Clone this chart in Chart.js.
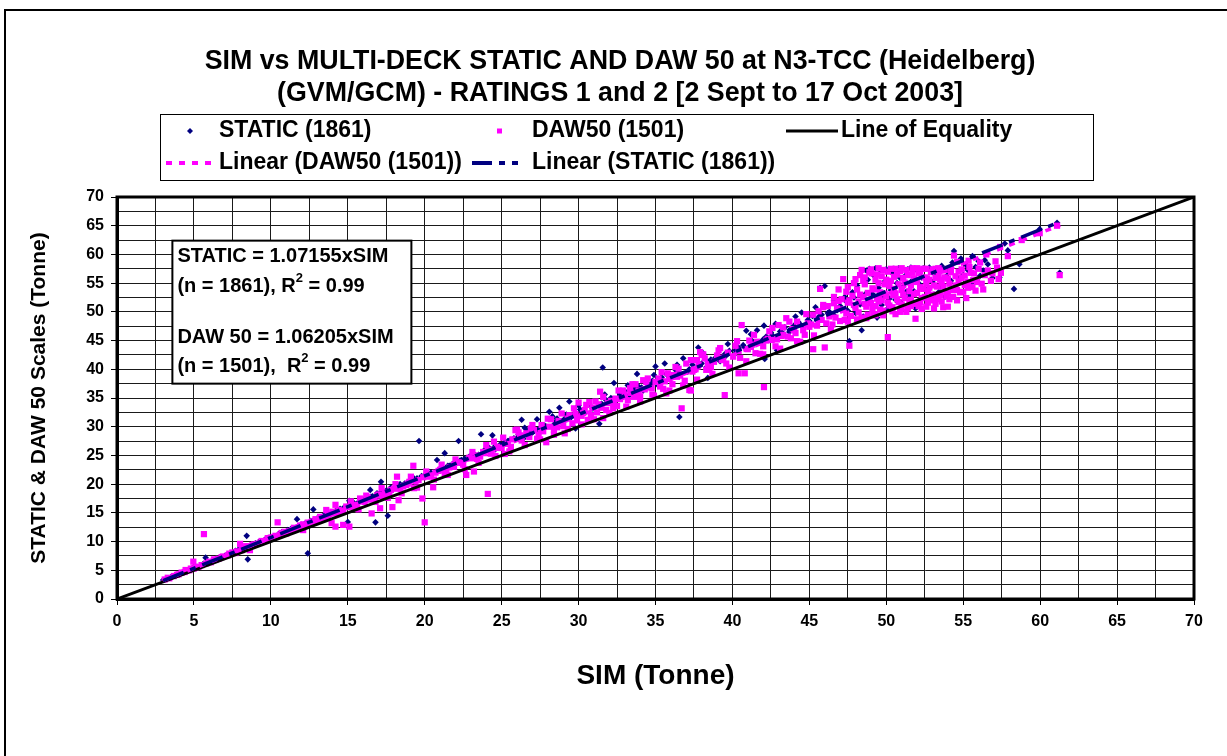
<!DOCTYPE html>
<html>
<head>
<meta charset="utf-8">
<script src="https://cdn.jsdelivr.net/npm/chart.js"></script>
<style>
  body { margin: 0; background: #fff; }
  canvas { display: block; }
</style>
</head>
<body>
<canvas id="sim-chart" width="1227" height="756"></canvas>
<script>
// STATIC scale vs SIM, [SIM, STATIC] in tonne
var staticPoints = [
  [3.0,3.3],[3.2,3.5],[3.5,3.8],[3.8,4.0],[4.1,4.5],[4.3,4.6],[4.6,4.9],[4.9,5.4],[5.2,5.6],[5.5,5.8],[5.76,7.2],[5.9,6.3],
  [6.2,6.7],[6.5,7.0],[6.8,7.2],[7.1,7.6],[7.4,8.0],[7.6,8.1],[7.9,8.6],[8.2,8.8],[8.43,11.0],[8.5,6.9],[8.7,9.3],[9.0,9.7],[9.3,9.9],[9.6,10.3],[9.9,10.6],
  [10.2,10.9],[10.5,11.3],[10.8,11.5],[11.1,12.0],[11.4,12.2],[11.7,13.9],[11.9,12.8],[12.2,13.1],[12.4,7.95],[12.6,13.6],[12.76,15.6],[13.0,14.0],[13.3,14.2],[13.6,14.8],[13.9,15.0],[14.2,15.3],[14.5,15.7],[14.8,15.9],[15.0,13.4],
  [15.1,17.1],[15.4,16.7],[15.7,16.9],[16.0,17.3],[16.3,17.6],[16.46,19.0],[16.6,17.9],[16.8,13.35],[16.9,18.4],[17.16,20.4],[17.2,18.6],[17.5,18.9],[17.6,14.5],[17.8,19.4],[18.1,19.6],[18.4,20.0],[18.7,20.1],[19.0,20.6],[19.3,21.0],[19.63,27.5],[19.8,21.4],
  [20.1,21.8],[20.4,22.0],[20.8,24.2],[21.0,22.6],[21.3,25.4],[21.5,23.2],[21.8,23.5],[22.2,27.5],[22.3,24.1],[22.6,24.4],[22.9,24.8],[23.2,25.3],[23.5,25.1],[23.66,28.7],[23.9,26.0],[24.2,26.3],[24.4,28.5],[24.6,26.1],[24.9,26.9],
  [25.2,27.3],[25.5,27.6],[25.8,28.0],[26.1,28.6],[26.3,31.2],[26.4,27.9],[26.7,29.3],[27.0,29.0],[27.3,31.3],[27.5,29.8],[27.8,30.2],[28.1,32.6],[28.3,30.1],[28.6,31.4],[28.75,33.3],[28.9,31.0],[29.2,32.1],[29.4,34.4],[29.5,31.6],[29.8,29.7],
  [30.1,33.0],[30.4,32.4],[30.7,33.9],[31.0,33.2],[31.35,30.5],[31.57,40.3],[31.8,34.6],[32.1,35.0],[32.3,37.6],[32.4,34.5],[32.7,35.6],[33.0,36.2],[33.3,35.5],[33.6,36.7],[33.8,39.2],[33.9,37.0],[34.2,36.3],[34.5,37.5],[34.8,38.0],[35.0,40.5],[35.1,37.4],[35.4,38.6],[35.6,41.0],[35.7,39.2],[36.0,38.5],[36.3,39.9],[36.55,31.7],[36.8,41.9],
  [37.1,39.6],[37.4,40.8],[37.78,43.8],[38.0,41.0],[38.3,40.3],[38.4,38.5],[38.6,41.7],[38.9,42.0],[39.2,41.4],[39.5,42.6],[39.8,43.2],[40.1,42.5],[40.4,43.8],[40.7,44.2],[40.9,46.7],[41.0,43.6],[41.3,44.9],[41.6,46.8],[41.9,44.8],[42.05,47.6],[42.1,41.8],[42.2,45.7],[42.5,46.4],[42.9,43.3],[43.1,46.6],[43.4,47.3],[43.7,46.5],[44.0,47.6],[44.3,48.2],[44.5,49.9],[44.6,47.4],[44.9,48.6],[45.2,49.3],[45.5,48.5],[45.7,54.2],[45.8,49.5],[46.0,54.5],[46.3,50.0],[46.6,49.4],[46.9,50.6],
  [47.0,51.0],[47.3,52.6],[47.5,50.2],[47.6,44.9],[47.8,53.4],[48.0,49.8],[48.1,54.6],[48.4,46.8],[48.5,49.2],[48.6,53.0],[48.8,55.6],[48.9,57.5],[49.0,51.8],[49.2,56.3],[49.4,49.0],[49.5,54.2],[49.6,57.3],[49.8,52.6],[49.9,55.3],[50.0,57.4],[50.1,50.6],[50.3,53.8],[50.4,56.7],[50.6,52.1],[50.7,55.0],[50.8,57.6],[50.95,51.6],[51.1,54.4],[51.2,56.2],[51.4,57.4],[51.5,52.8],[51.7,55.5],[51.8,53.6],[52.0,57.2],[52.1,51.9],[52.3,56.0],[52.5,54.1],[52.6,52.1],[52.8,57.7],[53.0,55.2],[53.1,53.0],[53.3,56.6],[53.5,54.4],[53.6,58.0],[53.8,52.6],[54.0,57.0],[54.2,55.4],[54.4,60.6],[54.6,53.8],[54.85,59.3],[55.0,56.4],[55.2,58.1],[55.5,55.0],[55.8,57.8],[56.1,56.3],[56.4,59.0],[56.6,58.3],[56.9,55.9],[57.35,56.0],[57.7,61.9],[57.9,60.7],[58.3,54.0],[58.65,58.3],[59.97,64.4],[61.1,65.5],[61.27,56.8],
  [3.6,3.9],[4.4,4.8],[5.0,5.5],[5.6,6.1],[6.4,6.9],[7.0,7.5],[7.7,8.4],[8.4,9.1],[9.2,9.9],[10.0,10.8],[10.7,11.6],[11.3,12.2],[12.0,12.9],[12.8,13.8],[13.4,14.5],[14.0,15.1],[14.7,15.8],[15.3,16.5],[15.9,17.2],[16.5,17.8],[17.1,18.4],[17.7,19.0],[18.3,19.7],[18.9,20.3],[19.5,21.0],[20.2,21.7],[20.9,22.5],[21.6,23.2],[22.4,24.2],[23.1,24.8],[23.8,25.6],[24.5,26.4],
  [25.4,27.5],[26.0,28.0],[26.6,28.7],[27.3,29.4],[27.9,30.0],[28.5,30.8],[29.1,31.4],[29.7,32.0],[30.3,32.8],[30.9,33.2],[31.5,34.0],[32.2,34.8],[32.9,35.3],[33.5,36.0],[34.1,36.8],[34.7,37.3],[35.3,38.1],[35.9,38.6],[36.5,39.3],[37.2,40.0],[37.8,40.6],[38.4,41.3],[39.0,42.2],[39.6,42.4],[40.2,43.3],[40.8,43.8],[41.4,44.6],[42.0,45.2],[42.6,45.9],[43.2,46.5],[43.8,47.1],[44.4,47.8],[45.0,48.4],[45.6,49.1],[46.2,49.8],[46.8,50.3],
  [47.4,51.8],[47.9,52.5],[48.3,51.3],[48.7,57.2],[49.1,53.1],[49.3,57.6],[49.7,51.2],[50.2,52.3],[50.5,57.5],[50.9,55.9],[51.3,53.5],[51.6,57.7],[51.9,50.6],[52.2,54.7],[52.4,57.6],[52.7,55.8],[53.2,57.5],[53.4,53.4],[53.9,56.2],[54.3,58.6],[54.7,55.8],[55.3,57.3],[55.6,59.7],[56.0,58.8],[56.3,57.2],
  [26.5,29.8],[28.3,31.8],[30.0,33.7],[31.7,35.6],[33.2,37.2],[34.9,39.0],[36.4,40.8],[38.1,42.8],[39.7,44.4],[41.2,46.1],[42.8,47.9],[44.1,49.2],[45.4,50.8],[46.6,52.0]
];

// DAW 50 scale vs SIM, [SIM, DAW50] in tonne
var dawPoints = [
  [3.1,3.4],[3.4,3.6],[3.7,4.0],[4.0,4.3],[4.4,4.7],[4.46,5.05],[4.7,5.0],[4.96,6.5],[5.0,5.3],[5.3,5.6],[5.65,11.3],[5.8,6.2],[6.1,6.4],[6.3,6.9],[6.6,7.0],[6.9,7.4],[7.2,7.6],[7.5,8.1],[7.8,8.3],[8.0,9.6],[8.2,9.0],[8.5,8.8],[8.64,8.5],[8.8,9.4],[9.1,9.6],[9.4,10.1],[9.7,10.2],[10.0,10.7],
  [10.3,11.0],[10.44,13.35],[10.6,11.2],[10.9,11.7],[11.2,11.8],[11.5,12.4],[11.8,12.5],[12.1,12.0],[12.1,13.0],[12.4,13.3],[12.7,13.5],[13.0,13.6],[13.2,14.3],[13.5,14.1],[13.6,15.5],[13.8,14.8],[13.95,13.2],[14.1,14.9],[14.2,12.6],[14.2,16.4],[14.4,15.5],[14.7,12.9],[14.7,15.4],[15.0,16.0],
  [15.1,12.6],[15.3,16.1],[15.6,16.4],[15.8,17.5],[16.1,16.9],[16.3,17.7],[16.55,14.9],[16.7,17.4],[17.0,18.2],[17.1,15.8],[17.4,18.5],[17.7,18.4],[17.9,16.0],[18.0,19.2],[18.2,21.3],[18.3,17.2],[18.6,19.6],[18.8,19.85],[19.0,20.4],[19.26,23.2],[19.3,19.3],[19.6,20.7],[19.85,17.5],[20.0,13.35],[20.2,21.3],[20.55,19.45],[20.7,22.0],[21.0,22.5],[21.3,21.9],[21.6,22.9],[21.9,23.0],[22.2,23.8],[22.5,23.4],[22.7,21.6],[23.0,24.5],[23.2,22.2],[23.4,25.0],[23.6,24.8],[23.9,25.4],[24.1,18.3],[24.1,25.9],[24.4,26.0],[24.5,27.4],[24.8,26.3],
  [25.2,25.25],[25.4,27.0],[25.7,27.8],[25.9,29.4],[26.0,29.5],[26.3,27.6],[26.6,28.85],[26.8,28.2],[27.1,29.4],[27.4,28.6],[27.6,30.3],[27.9,27.3],[28.1,30.0],[28.4,29.4],[28.7,31.0],[29.1,28.85],[29.3,31.4],[29.6,30.6],[29.8,32.2],[30.0,34.2],[30.3,32.4],[30.6,31.2],[30.9,33.3],[31.2,32.5],[31.4,36.1],[31.6,31.5],[31.9,34.1],[32.25,33.2],[32.4,34.9],[32.7,34.8],[33.0,35.6],[33.35,36.7],[33.6,35.2],[33.9,36.3],[34.2,38.1],[34.5,36.9],[34.75,36.7],[35.0,37.8],[35.3,37.0],[35.7,35.8],[35.9,38.3],[36.2,39.0],[36.4,38.7],[36.7,33.2],[37.0,41.0],[37.2,36.4],[37.3,36.3],[37.6,40.0],
  [37.7,41.6],[37.9,43.0],[38.0,42.5],[38.3,39.9],[38.5,39.9],[38.8,41.3],[39.0,42.4],[39.3,41.6],[39.5,35.5],[39.7,42.9],[40.05,42.2],[40.4,39.3],[40.6,47.7],[40.8,39.3],[41.0,43.5],[41.3,44.3],[41.6,44.8],[41.8,42.7],[42.05,36.9],[42.3,45.3],[42.55,45.1],[42.8,44.0],[43.0,47.7],[43.3,46.0],[43.5,48.9],[43.6,45.7],[43.9,47.0],[44.1,46.3],[44.4,44.8],[44.6,46.8],[44.9,48.0],[45.25,49.5],[45.25,43.5],[45.5,47.6],[45.7,54.0],[45.9,51.2],[46.0,43.8],[46.3,49.2],[46.5,47.8],[46.8,50.6],[47.1,52.2],[47.4,49.7],[47.6,44.1],
  [47.2,50.4],[47.4,53.5],[47.5,51.6],[47.7,49.3],[47.8,52.8],[47.9,55.0],[48.0,50.7],[48.1,53.9],[48.2,51.8],[48.3,56.4],[48.4,49.0],[48.5,52.6],[48.6,54.8],[48.7,50.9],[48.8,53.3],[48.9,56.9],[49.0,51.5],[49.05,56.7],[49.1,54.1],[49.2,49.6],[49.3,55.6],[49.4,52.3],[49.5,51.8],[49.6,53.4],[49.7,56.2],[49.8,50.2],[49.9,54.8],[50.0,52.7],[50.1,45.6],[50.1,57.0],[50.2,51.1],[50.3,55.4],[50.45,52.9],[50.5,54.0],[50.6,49.6],[50.7,56.5],[50.8,51.7],[50.9,50.0],[51.0,53.8],[51.1,55.9],[51.2,52.4],[51.3,57.3],[51.4,50.6],[51.5,51.8],[51.6,54.6],[51.7,56.8],[51.8,53.1],[51.9,48.8],[52.0,55.2],[52.1,51.0],[52.2,57.1],[52.3,52.4],[52.4,54.0],[52.5,56.0],[52.6,50.9],[52.7,53.6],[52.8,55.6],[52.9,52.0],[53.0,57.4],[53.1,54.6],[53.2,51.4],[53.3,54.4],[53.4,56.6],[53.5,52.9],[53.6,55.1],[53.7,50.8],[53.8,57.3],[53.9,53.5],[54.0,55.8],[54.1,52.2],[54.2,56.9],[54.35,52.6],[54.4,59.8],[54.5,54.6],[54.6,58.7],[54.7,57.0],[54.8,53.4],[54.9,55.9],[55.1,54.7],[55.2,52.4],[55.35,58.9],[55.5,56.8],[55.65,55.5],[55.8,53.7],[56.0,57.5],[56.2,54.9],[56.4,56.4],[56.5,60.0],[56.8,55.4],[57.2,57.7],[57.4,61.3],[57.45,56.8],[57.9,59.7],[58.8,62.5],[59.97,63.7],[61.1,65.0],[61.27,56.4],
  [3.3,3.7],[3.9,4.2],[4.2,4.6],[4.8,5.3],[5.1,5.5],[5.5,5.9],[6.0,6.5],[6.4,6.8],[6.8,7.3],[7.3,7.9],[7.7,8.0],[8.1,8.5],[8.4,9.2],[8.9,9.5],[9.3,9.8],[9.8,10.6],[10.2,10.8],[10.7,11.5],[11.0,11.4],[11.4,12.0],[11.9,12.8],[12.3,12.9],[12.6,13.3],[12.9,13.9],[13.3,14.0],[13.7,14.5],[14.0,15.2],[14.5,15.0],[14.9,16.1],[15.4,15.8],[15.9,17.0],[16.4,17.3],[16.9,18.0],[17.3,17.9],[17.8,19.0],[18.4,19.2],[18.9,20.1],[19.4,20.5],[19.9,21.2],[20.4,21.5],[20.9,22.3],[21.4,22.5],[21.9,23.4],[22.4,23.7],[22.9,24.6],[23.4,24.4],[23.8,25.6],[24.3,25.3],[24.7,26.5],
  [25.0,26.3],[25.6,26.5],[26.2,28.5],[26.9,29.7],[27.3,27.9],[27.7,29.2],[28.2,31.3],[28.6,29.9],[29.0,30.1],[29.4,32.0],[29.9,31.1],[30.2,31.9],[30.5,33.8],[30.8,32.0],[31.1,34.4],[31.5,33.3],[31.8,32.9],[32.1,34.5],[32.5,33.6],[32.9,36.3],[33.2,34.6],[33.7,37.4],[34.0,35.3],[34.4,37.8],[34.8,35.6],[35.2,38.4],[35.5,36.6],[35.8,39.3],[36.1,37.4],[36.5,40.1],[36.9,38.0],[37.4,39.6],[37.8,40.8],[38.2,41.9],[38.6,40.4],[39.1,43.3],[39.6,41.0],[40.2,44.1],[40.5,42.0],[41.1,45.0],[41.5,42.8],[42.0,44.0],[42.4,46.6],[42.9,45.2],[43.3,47.3],[43.8,45.4],[44.2,48.3],[44.7,46.0],[45.1,47.8],[45.6,50.1],[46.1,48.0],[46.6,51.5],[47.0,48.4],
  [47.3,48.6],[47.5,54.3],[47.6,52.0],[47.9,51.2],[48.0,55.7],[48.2,49.9],[48.3,53.0],[48.5,55.4],[48.6,51.4],[48.8,49.5],[48.9,52.1],[49.0,57.4],[49.1,50.5],[49.2,53.9],[49.3,51.0],[49.4,56.5],[49.5,55.0],[49.6,50.4],[49.7,52.0],[49.8,57.3],[49.9,53.2],[50.0,55.6],[50.1,51.6],[50.2,54.5],[50.3,57.5],[50.4,50.8],[50.5,56.1],[50.6,53.2],[50.7,52.2],[50.8,54.8],[50.9,57.1],[51.0,51.3],[51.1,53.0],[51.2,55.1],[51.3,50.0],[51.4,56.4],[51.5,53.6],[51.6,52.1],[51.7,57.6],[51.8,55.8],[51.9,51.4],[52.0,53.3],[52.1,56.7],[52.2,54.3],[52.3,50.5],[52.4,57.5],[52.5,52.6],[52.6,55.0],[52.7,51.6],[52.8,54.2],[52.9,56.9],[53.0,53.0],[53.1,50.6],[53.2,55.9],[53.3,52.2],[53.4,57.6],[53.5,55.6],[53.6,51.8],[53.7,54.4],[53.8,56.0],[53.9,52.7],[54.0,50.9],[54.1,54.9],[54.2,57.4],[54.3,53.8],[54.5,56.2],[54.6,52.0],[54.7,55.3],[54.9,57.4],[55.0,53.5],[55.1,56.3],[55.3,54.2],[55.4,57.8],[55.6,54.3],[55.7,56.7],[55.9,55.2],[56.1,58.6],[56.3,53.9],[56.6,57.2],[56.9,56.7],[57.1,58.8],[57.3,55.7],
  [15.2,17.0],[15.7,15.6],[16.2,18.0],[16.8,16.9],[17.2,19.3],[17.6,17.6],[18.1,20.0],[18.5,18.4],[19.1,21.3],[19.5,19.4],[20.1,22.2],[20.6,20.8],[21.1,23.4],[21.5,21.6],[22.0,24.3],[22.6,22.6],[23.1,25.6],[23.5,23.7],[24.0,26.8],[24.6,24.9],
  [25.1,28.1],[25.5,25.7],[26.1,29.0],[26.5,26.8],[27.0,30.3],[27.5,27.8],[28.0,31.4],[28.4,28.6],[28.9,32.3],[29.3,29.6],[29.7,33.2],[30.2,30.4],[30.7,34.3],[31.0,31.3],[31.6,35.2],[32.0,32.4],[32.6,36.3],[33.1,33.5],[33.5,37.4],[34.0,34.4],[34.5,38.4],[34.9,35.4],[35.4,39.5],[35.9,36.3],[36.3,40.4],[36.8,37.2],[37.3,41.6],[37.7,38.2],[38.1,42.6],[38.7,39.2],[39.2,43.7],[39.8,40.3],[40.3,44.9],[40.9,41.4],[41.4,46.0],[42.0,42.6],[42.6,47.2],[43.1,43.6],[43.7,48.3],[44.2,44.9],[44.8,49.6],[45.3,45.9],[45.9,50.8],[46.4,47.0],[46.9,51.9],
  [30.4,32.9],[31.3,33.9],[32.3,34.0],[33.4,35.9],[34.3,36.5],[35.6,37.9],[36.6,38.9],[37.5,39.9],[38.4,40.9],[39.4,42.0],[40.4,43.2],[41.2,43.9],[42.2,45.0],[43.2,45.8],[44.0,46.8],[45.0,47.4],[45.8,48.6],[46.7,49.0],
  [47.5,48.3],[48.1,48.7],[48.7,48.9],[49.3,49.4],[49.8,49.4],[50.4,50.1],[51.0,50.6],[51.6,51.0],[52.2,51.6],[52.8,52.3],[53.4,52.7],[54.0,53.2],[54.6,53.8],[55.3,55.2],[48.4,57.3],[48.6,56.0],[49.5,57.6],[50.6,57.5],[51.0,57.6],[52.0,57.6],[52.6,57.5],[53.2,57.5],[53.6,57.2],[47.2,55.7],[46.9,53.9],[46.6,52.6],[46.2,51.0]
];

// Line of equality and the two linear trendlines (end points)
var equalityLine = [[0,0],[70,70]];
var staticTrend = [[3.0,3.21],[61.2,65.58]];
var dawTrend = [[3.0,3.19],[61.3,65.10]];

var seriesNames = ['STATIC (1861)', 'DAW50 (1501)', 'Line of Equality', 'Linear (DAW50 (1501))', 'Linear (STATIC (1861))'];
var titleLines = ['SIM vs MULTI-DECK STATIC AND DAW 50 at N3-TCC (Heidelberg)', '(GVM/GCM) - RATINGS 1 and 2 [2 Sept to 17 Oct 2003]'];
var noteLines = [['STATIC = 1.07155xSIM'], ['(n = 1861), R', '2', ' = 0.99'], ['DAW 50 = 1.06205xSIM'], ['(n = 1501),  R', '2', ' = 0.99']];

var NAVY = '#000080';
var PINK = '#ff00ff';

function toXY(arr) {
  return arr.map(function (p) { return {x: p[0], y: p[1]}; });
}

// outer frame + thick border round the plot
var framePlugin = {
  id: 'frame',
  beforeDraw: function (chart) {
    var c = chart.ctx;
    c.save();
    c.fillStyle = '#fff';
    c.fillRect(0, 0, chart.width, chart.height);
    c.strokeStyle = '#000';
    c.lineWidth = 2;
    c.strokeRect(5, 10, 1300, 800);
    c.restore();
  },
  afterDatasetsDraw: function (chart) {
    var a = chart.chartArea, c = chart.ctx;
    c.save();
    c.strokeStyle = '#000';
    c.lineWidth = 3;
    c.strokeRect(a.left, a.top, a.right - a.left, a.bottom - a.top);
    c.restore();
  }
};

// legend laid out in Excel style, two rows in a box
var legendPlugin = {
  id: 'xlLegend',
  afterDraw: function (chart) {
    var c = chart.ctx;
    c.save();
    c.fillStyle = '#fff';
    c.fillRect(160, 114, 933, 66);
    c.strokeStyle = '#000';
    c.lineWidth = 1;
    c.strokeRect(160.5, 114.5, 933, 66);

    c.font = 'bold 23px "Liberation Sans", Arial, sans-serif';
    c.fillStyle = '#000';
    c.textBaseline = 'middle';
    c.textAlign = 'left';
    var r1 = 131, r2 = 163;

    // STATIC marker
    c.fillStyle = NAVY;
    c.beginPath();
    c.moveTo(190, r1 - 3); c.lineTo(193, r1); c.lineTo(190, r1 + 3); c.lineTo(187, r1);
    c.closePath(); c.fill();
    // DAW marker
    c.fillStyle = PINK;
    c.fillRect(497, r1 - 2.5, 5, 5);
    // equality line
    c.strokeStyle = '#000';
    c.lineWidth = 3;
    c.beginPath(); c.moveTo(786, r1); c.lineTo(838, r1); c.stroke();
    // DAW trend
    c.strokeStyle = PINK;
    c.lineWidth = 4;
    c.setLineDash([6, 7]);
    c.beginPath(); c.moveTo(166, r2); c.lineTo(212, r2); c.stroke();
    // STATIC trend
    c.strokeStyle = NAVY;
    c.setLineDash([20, 7, 6, 7]);
    c.beginPath(); c.moveTo(472, r2); c.lineTo(518, r2); c.stroke();
    c.setLineDash([]);

    c.fillStyle = '#000';
    c.fillText(seriesNames[0], 219, r1);
    c.fillText(seriesNames[1], 532, r1);
    c.fillText(seriesNames[2], 841, r1);
    c.fillText(seriesNames[3], 219, r2);
    c.fillText(seriesNames[4], 532, r2);
    c.restore();
  }
};

// regression text box
var notePlugin = {
  id: 'note',
  afterDraw: function (chart) {
    var c = chart.ctx;
    var x0 = chart.scales.x.getPixelForValue(3.6);
    var y0 = chart.scales.y.getPixelForValue(62.4);
    c.save();
    c.fillStyle = '#fff';
    c.fillRect(x0, y0, 239, 143);
    c.strokeStyle = '#000';
    c.lineWidth = 2;
    c.strokeRect(x0, y0, 239, 143);
    c.fillStyle = '#000';
    c.textBaseline = 'middle';
    c.textAlign = 'left';
    var rows = [16, 46, 97, 126];
    noteLines.forEach(function (parts, i) {
      var x = x0 + 5, y = y0 + rows[i];
      parts.forEach(function (t, j) {
        if (j === 1) {
          c.font = 'bold 13px "Liberation Sans", Arial, sans-serif';
          c.fillText(t, x, y - 8);
        } else {
          c.font = 'bold 20px "Liberation Sans", Arial, sans-serif';
          c.fillText(t, x, y);
        }
        x += c.measureText(t).width;
      });
    });
    c.restore();
  }
};

var ctx = document.getElementById('sim-chart').getContext('2d');

var tickFont = {family: '"Liberation Sans", Arial, sans-serif', size: 16, weight: 'bold'};
var majorTick = function (c) { return c.tick && c.tick.value % 5 === 0 ? '#000' : 'rgba(0,0,0,0)'; };

var chart = new Chart(ctx, {
  type: 'scatter',
  data: {
    datasets: [
      {
        label: seriesNames[4],
        data: toXY(staticTrend),
        showLine: true,
        borderColor: NAVY,
        borderWidth: 3.5,
        borderDash: [22, 7, 6, 7],
        pointRadius: 0,
        order: 0
      },
      {
        label: seriesNames[3],
        data: toXY(dawTrend),
        showLine: true,
        borderColor: PINK,
        borderWidth: 3.5,
        borderDash: [6, 7],
        pointRadius: 0,
        order: 1
      },
      {
        label: seriesNames[2],
        data: toXY(equalityLine),
        showLine: true,
        borderColor: '#000',
        borderWidth: 3,
        pointRadius: 0,
        order: 2
      },
      {
        label: seriesNames[1],
        data: toXY(dawPoints),
        pointStyle: 'rect',
        pointRadius: 4.4,
        pointBorderWidth: 0,
        backgroundColor: PINK,
        borderColor: PINK,
        order: 3
      },
      {
        label: seriesNames[0],
        data: toXY(staticPoints),
        pointStyle: 'rectRot',
        pointRadius: 3.3,
        pointBorderWidth: 0,
        backgroundColor: NAVY,
        borderColor: NAVY,
        order: 4
      }
    ]
  },
  options: {
    responsive: false,
    animation: false,
    events: [],
    // wider left padding keeps the title centred like the original
    layout: {padding: {top: 0, left: 46, right: 33, bottom: 0}},
    plugins: {
      legend: {display: false},
      tooltip: {enabled: false},
      title: {
        display: true,
        text: titleLines,
        color: '#000',
        font: {family: '"Liberation Sans", Arial, sans-serif', size: 26.8, weight: 'bold', lineHeight: 32 / 26.8},
        padding: {top: 46, bottom: 87}
      }
    },
    scales: {
      x: {
        type: 'linear',
        min: 0,
        max: 70,
        afterFit: function (s) { s.height = 157; },
        ticks: {
          stepSize: 2.5,
          autoSkip: false,
          maxRotation: 0,
          padding: 7,
          color: '#000',
          font: tickFont,
          callback: function (v) { return v % 5 === 0 ? v : ''; }
        },
        grid: {color: '#1a1a1a', lineWidth: 1, tickLength: 6, tickColor: majorTick},
        border: {color: '#000', width: 3},
        title: {
          display: true,
          text: 'SIM (Tonne)',
          color: '#000',
          font: {family: '"Liberation Sans", Arial, sans-serif', size: 28, weight: 'bold'},
          padding: {top: 0, bottom: 63}
        }
      },
      y: {
        type: 'linear',
        min: 0,
        max: 70,
        afterFit: function (s) { s.width = 71; },
        ticks: {
          stepSize: 2.5,
          autoSkip: false,
          padding: 7,
          color: '#000',
          font: tickFont,
          callback: function (v) { return v % 5 === 0 ? v : ''; }
        },
        grid: {color: '#1a1a1a', lineWidth: 1, tickLength: 6, tickColor: majorTick},
        border: {color: '#000', width: 3},
        title: {
          display: true,
          text: 'STATIC & DAW 50 Scales (Tonne)',
          color: '#000',
          font: {family: '"Liberation Sans", Arial, sans-serif', size: 21, weight: 'bold'},
          padding: {top: -19, bottom: 0}
        }
      }
    }
  },
  plugins: [framePlugin, legendPlugin, notePlugin]
});
</script>
</body>
</html>
